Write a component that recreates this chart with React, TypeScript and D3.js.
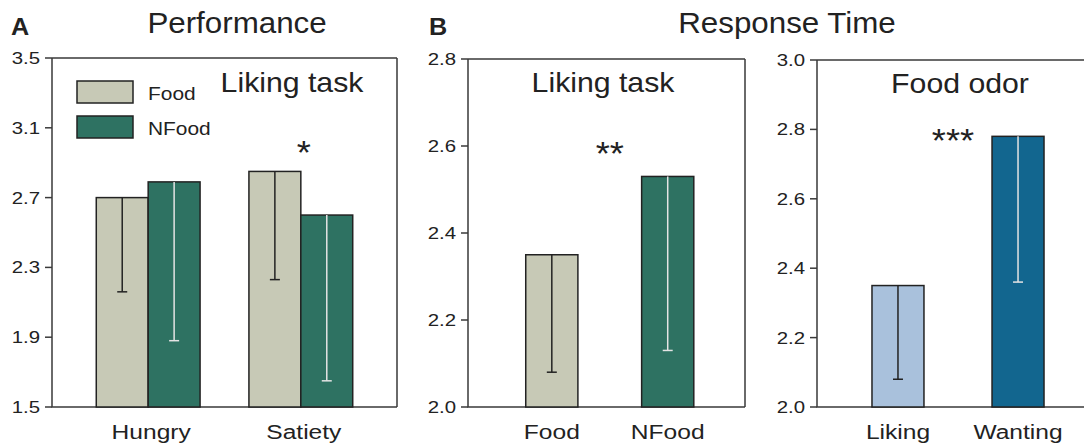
import React from 'react';
import * as d3 from 'd3';

// Panel A: performance, liking task
const perfGroups = ['Hungry', 'Satiety'];
const perfSeries = ['Food', 'NFood'];
const perfFood = [2.7, 2.85];
const perfFoodLow = [2.16, 2.23];
const perfNFood = [2.79, 2.6];
const perfNFoodLow = [1.88, 1.65];
const perfTicks = [1.5, 1.9, 2.3, 2.7, 3.1, 3.5];

// Panel B1: response time, liking task
const rtCats = ['Food', 'NFood'];
const rtValues = [2.35, 2.53];
const rtLow = [2.08, 2.13];
const rtTicks = [2.0, 2.2, 2.4, 2.6, 2.8];

// Panel B2: response time, food odor
const odorCats = ['Liking', 'Wanting'];
const odorValues = [2.35, 2.78];
const odorLow = [2.08, 2.36];
const odorTicks = [2.0, 2.2, 2.4, 2.6, 2.8, 3.0];

const FONT = '"Liberation Sans", Arial, sans-serif';
const FRAME = '#3a3a3a';
const BAR_STROKE = '#222';
const colFood = '#c7c9b6';
const colNFood = '#2e7262';
const colLiking = '#a9c1dc';
const colWanting = '#12668f';

const fmt = d3.format('.1f');

interface Bar {
  x: number;
  w: number;
  value: number;
  low: number;
  fill: string;
  err: string;
}

// text slightly widened, like the original figure's lettering
function T({ x, y, size, anchor = 'start', sx = 1.1, children, bold }: any) {
  return (
    <text
      transform={`translate(${x},${y}) scale(${sx},1)`}
      fontSize={size}
      textAnchor={anchor}
      fontWeight={bold ? 'bold' : 'normal'}
      fill="#222"
    >
      {children}
    </text>
  );
}

function Frame({ x0, x1, y, ticks }: { x0: number; x1: number; y: d3.ScaleLinear<number, number>; ticks: number[] }) {
  const [yb, yt] = y.range();
  return (
    <g>
      <path d={`M${x0},${yt}H${x1}M${x0},${yt}V${yb}H${x1}M${x1},${yt}V${yb}`} fill="none" stroke={FRAME} strokeWidth={1.5} />
      {ticks.map((t) => (
        <g key={t}>
          <line x1={x0 - 7} x2={x0} y1={y(t)} y2={y(t)} stroke={FRAME} strokeWidth={1.5} />
          <T x={x0 - 12} y={y(t) + 6} size={17} anchor="end" sx={1.2}>
            {fmt(t)}
          </T>
        </g>
      ))}
    </g>
  );
}

function Bars({ bars, y }: { bars: Bar[]; y: d3.ScaleLinear<number, number> }) {
  const base = y.range()[0];
  return (
    <g>
      {bars.map((b, i) => {
        const cx = b.x + b.w / 2;
        return (
          <g key={i}>
            <rect x={b.x} y={y(b.value)} width={b.w} height={base - y(b.value)} fill={b.fill} stroke={BAR_STROKE} strokeWidth={1.5} />
            <line x1={cx} x2={cx} y1={y(b.value)} y2={y(b.low)} stroke={b.err} strokeWidth={1.5} />
            <line x1={cx - 5} x2={cx + 5} y1={y(b.low)} y2={y(b.low)} stroke={b.err} strokeWidth={1.5} />
          </g>
        );
      })}
    </g>
  );
}

export default function App() {
  // Panel A
  const yA = d3.scaleLinear().domain([1.5, 3.5]).range([407, 58]);
  const xA = d3.scaleBand<string>().domain(perfGroups).range([52, 397]).paddingInner(0.32).paddingOuter(0.29);
  const xAin = d3.scaleBand<string>().domain(perfSeries).range([0, xA.bandwidth()]);
  const barsA: Bar[] = [];
  perfGroups.forEach((g, i) => {
    barsA.push({ x: xA(g)! + xAin('Food')!, w: xAin.bandwidth(), value: perfFood[i], low: perfFoodLow[i], fill: colFood, err: '#222' });
    barsA.push({ x: xA(g)! + xAin('NFood')!, w: xAin.bandwidth(), value: perfNFood[i], low: perfNFoodLow[i], fill: colNFood, err: '#e4e4e4' });
  });

  // Panel B1
  const yB1 = d3.scaleLinear().domain([2.0, 2.8]).range([407, 59]);
  const xB1 = d3.scaleBand<string>().domain(rtCats).range([468, 745]).paddingInner(0.55).paddingOuter(0.47).align(0.53);
  const barsB1: Bar[] = rtCats.map((c, i) => ({
    x: xB1(c)!, w: xB1.bandwidth(), value: rtValues[i], low: rtLow[i],
    fill: i === 0 ? colFood : colNFood, err: i === 0 ? '#222' : '#e4e4e4',
  }));

  // Panel B2
  const yB2 = d3.scaleLinear().domain([2.0, 3.0]).range([407, 60]);
  const xB2 = d3.scaleBand<string>().domain(odorCats).range([817, 1099]).paddingInner(0.567).paddingOuter(0.458);
  const barsB2: Bar[] = odorCats.map((c, i) => ({
    x: xB2(c)!, w: xB2.bandwidth(), value: odorValues[i], low: odorLow[i],
    fill: i === 0 ? colLiking : colWanting, err: i === 0 ? '#222' : '#e4e4e4',
  }));

  const mid = (s: d3.ScaleBand<string>, c: string) => s(c)! + s.bandwidth() / 2;

  return (
    <svg width={1084} height={446} style={{ position: 'absolute', left: 0, top: 0, background: '#fff' }} fontFamily={FONT}>
      <rect width={1084} height={446} fill="#fff" />

      {/* Panel A */}
      <T x={11} y={35} size={24} bold sx={1.05}>A</T>
      <T x={237} y={33} size={29} anchor="middle" sx={1.08}>Performance</T>
      <Frame x0={52} x1={397} y={yA} ticks={perfTicks} />
      <Bars bars={barsA} y={yA} />
      {perfSeries.map((s, i) => (
        <g key={s}>
          <rect x={77} y={81 + i * 35} width={56} height={22} fill={i === 0 ? colFood : colNFood} stroke={BAR_STROKE} strokeWidth={1.5} />
          <T x={148} y={100 + i * 35} size={19} sx={1.1}>{s}</T>
        </g>
      ))}
      <T x={292} y={92} size={28} anchor="middle" sx={1.08}>Liking task</T>
      <T x={mid(xA, 'Satiety') + 3} y={yA(3.0) + 19} size={33} anchor="middle" sx={1.1}>*</T>
      {perfGroups.map((g) => (
        <T key={g} x={mid(xA, g) + 3} y={439} size={21} anchor="middle" sx={1.17}>{g}</T>
      ))}

      {/* Panel B */}
      <T x={429} y={35} size={24} bold sx={1.05}>B</T>
      <T x={787} y={33} size={29} anchor="middle" sx={1.08}>Response Time</T>

      <Frame x0={468} x1={745} y={yB1} ticks={rtTicks} />
      <Bars bars={barsB1} y={yB1} />
      <T x={603} y={92} size={28} anchor="middle" sx={1.08}>Liking task</T>
      <T x={(mid(xB1, 'Food') + mid(xB1, 'NFood')) / 2} y={yB1(2.6) + 19} size={33} anchor="middle" sx={1.1}>**</T>
      {rtCats.map((c) => (
        <T key={c} x={mid(xB1, c)} y={439} size={21} anchor="middle" sx={1.17}>{c}</T>
      ))}

      <Frame x0={817} x1={1099} y={yB2} ticks={odorTicks} />
      <Bars bars={barsB2} y={yB2} />
      <T x={960} y={93} size={28} anchor="middle" sx={1.08}>Food odor</T>
      <T x={(mid(xB2, 'Liking') + mid(xB2, 'Wanting')) / 2 - 5} y={yB2(2.79) + 19} size={33} anchor="middle" sx={1.1}>***</T>
      {odorCats.map((c) => (
        <T key={c} x={mid(xB2, c)} y={439} size={21} anchor="middle" sx={1.17}>{c}</T>
      ))}
    </svg>
  );
}
